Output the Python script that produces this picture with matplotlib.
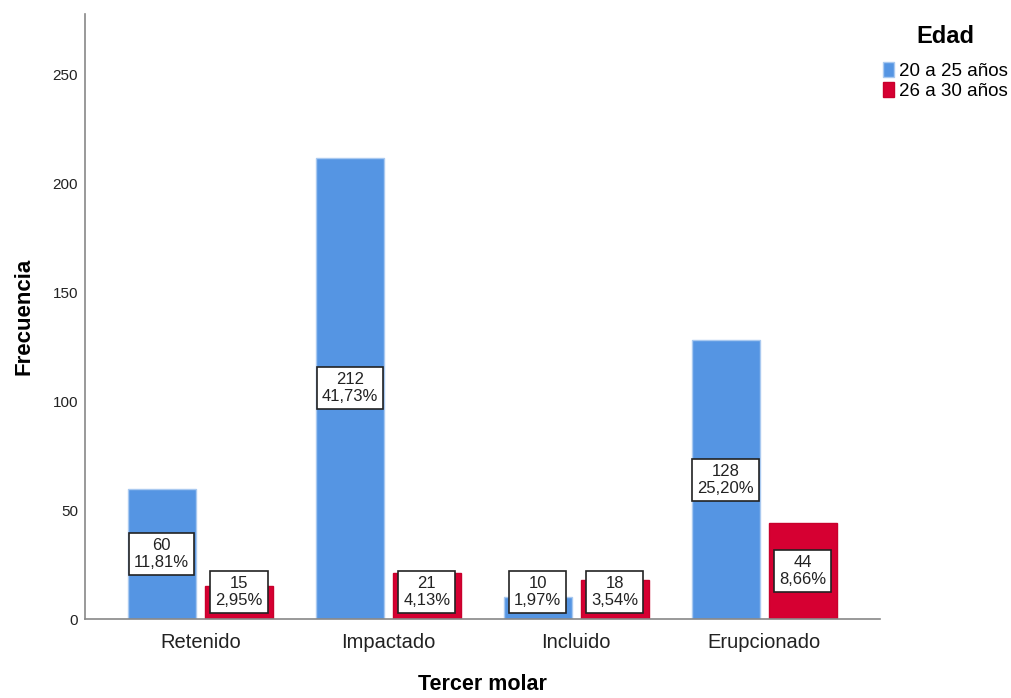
import matplotlib.pyplot as plt
import numpy as np

plt.rcParams["font.family"] = ["Liberation Sans", "DejaVu Sans"]

categories = ["Retenido", "Impactado", "Incluido", "Erupcionado"]
groups = ["20 a 25 años", "26 a 30 años"]
counts_20_25 = [60, 212, 10, 128]
counts_26_30 = [15, 21, 18, 44]
pct_20_25 = ["11,81%", "41,73%", "1,97%", "25,20%"]
pct_26_30 = ["2,95%", "4,13%", "3,54%", "8,66%"]

colors = ["#5595e3", "#d60032"]
edges = ["#a9c9f0", "#c8002c"]

fig = plt.figure(figsize=(10.11, 6.98), dpi=100)
ax = fig.add_axes([0.084, 0.113, 0.786, 0.867])

x = np.arange(len(categories))
width = 0.362
offset = width / 2 + 0.024

series = [(counts_20_25, pct_20_25), (counts_26_30, pct_26_30)]
for i, (vals, pcts) in enumerate(series):
    pos = x + (-offset if i == 0 else offset)
    ax.bar(pos, vals, width, color=colors[i], edgecolor=edges[i],
           linewidth=1.0, label=groups[i], zorder=2)
    for p, v, pc in zip(pos, vals, pcts):
        # keep the box clear of the baseline on short bars
        ax.text(p, max(v / 2, 12.5), f"{v}\n{pc}", ha="center", va="center",
                fontsize=12, color="#222222", linespacing=1.15, zorder=3,
                bbox=dict(boxstyle="square,pad=0.3", facecolor="white",
                          edgecolor="#222222", linewidth=1.2))

ax.set_xlim(-0.614, 3.614)
ax.set_ylim(0, 278)
ax.set_yticks([0, 50, 100, 150, 200, 250])
ax.set_xticks(x)
ax.set_xticklabels(categories, fontsize=14.5, color="#222222")
ax.tick_params(axis="y", length=0, pad=5, labelsize=11, labelcolor="#222222")
ax.tick_params(axis="x", length=0, pad=10)

for side in ["top", "right"]:
    ax.spines[side].set_visible(False)
ax.spines["left"].set_color("#888888")
ax.spines["bottom"].set_color("#888888")
ax.spines["left"].set_linewidth(1.2)
ax.spines["bottom"].set_linewidth(1.2)

ax.set_ylabel("Frecuencia", fontsize=16, fontweight="bold", labelpad=13)
ax.set_xlabel("Tercer molar", fontsize=15.5, fontweight="bold", labelpad=16)

leg = fig.legend(loc="upper left", bbox_to_anchor=(0.866, 0.975), frameon=False,
                 fontsize=13.5, title="Edad", handlelength=0.6, handleheight=0.85,
                 handletextpad=0.25, labelspacing=0.12, borderaxespad=0)
leg.get_title().set_fontweight("bold")
leg.get_title().set_fontsize(17)
leg._legend_box.sep = 10

fig.savefig("out.png", dpi=100)
